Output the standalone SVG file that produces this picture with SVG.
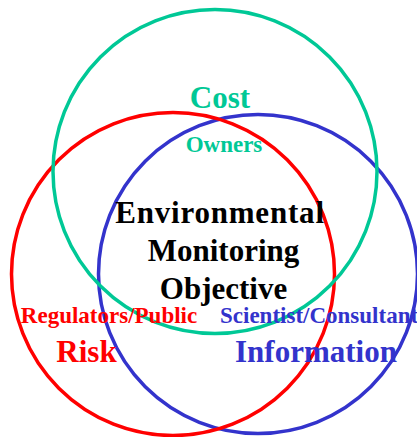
<svg xmlns="http://www.w3.org/2000/svg" width="417" height="437" viewBox="0 0 417 437">
<style>
.c{fill:none;stroke-width:3.5}
text{font-family:"Liberation Serif","Times New Roman",serif;font-weight:bold;text-anchor:middle}
.big{font-size:31px}
.sm{font-size:23px}
</style>
<rect width="417" height="437" fill="#fff"/>
<g id="blue-circle"><circle class="c" cx="258" cy="274" r="159.5" stroke="#3333CC"/></g>
<g id="red-circle"><circle class="c" cx="173" cy="274" r="161.5" stroke="#FF0000"/></g>
<g id="green-circle"><circle class="c" cx="215" cy="171.5" r="162" stroke="#00C896"/></g>
<g id="cost"><text class="big" x="220" y="108" fill="#00C896">Cost</text><text class="sm" x="224" y="152" fill="#00C896">Owners</text></g>
<g id="objective" fill="#000"><text class="big" x="220" y="223" style="letter-spacing:0.8px">Environmental</text><text class="big" x="223.5" y="261">Monitoring</text><text class="big" x="223.5" y="299">Objective</text></g>
<g id="risk" fill="#FF0000"><text class="sm" x="109" y="323">Regulators/Public</text><text class="big" x="86.5" y="362">Risk</text></g>
<g id="information" fill="#3333CC"><text class="sm" x="220" y="323" style="text-anchor:start">Scientist/Consultant</text><text class="big" x="316" y="362">Information</text></g>
<g id="connectors"/>
</svg>
